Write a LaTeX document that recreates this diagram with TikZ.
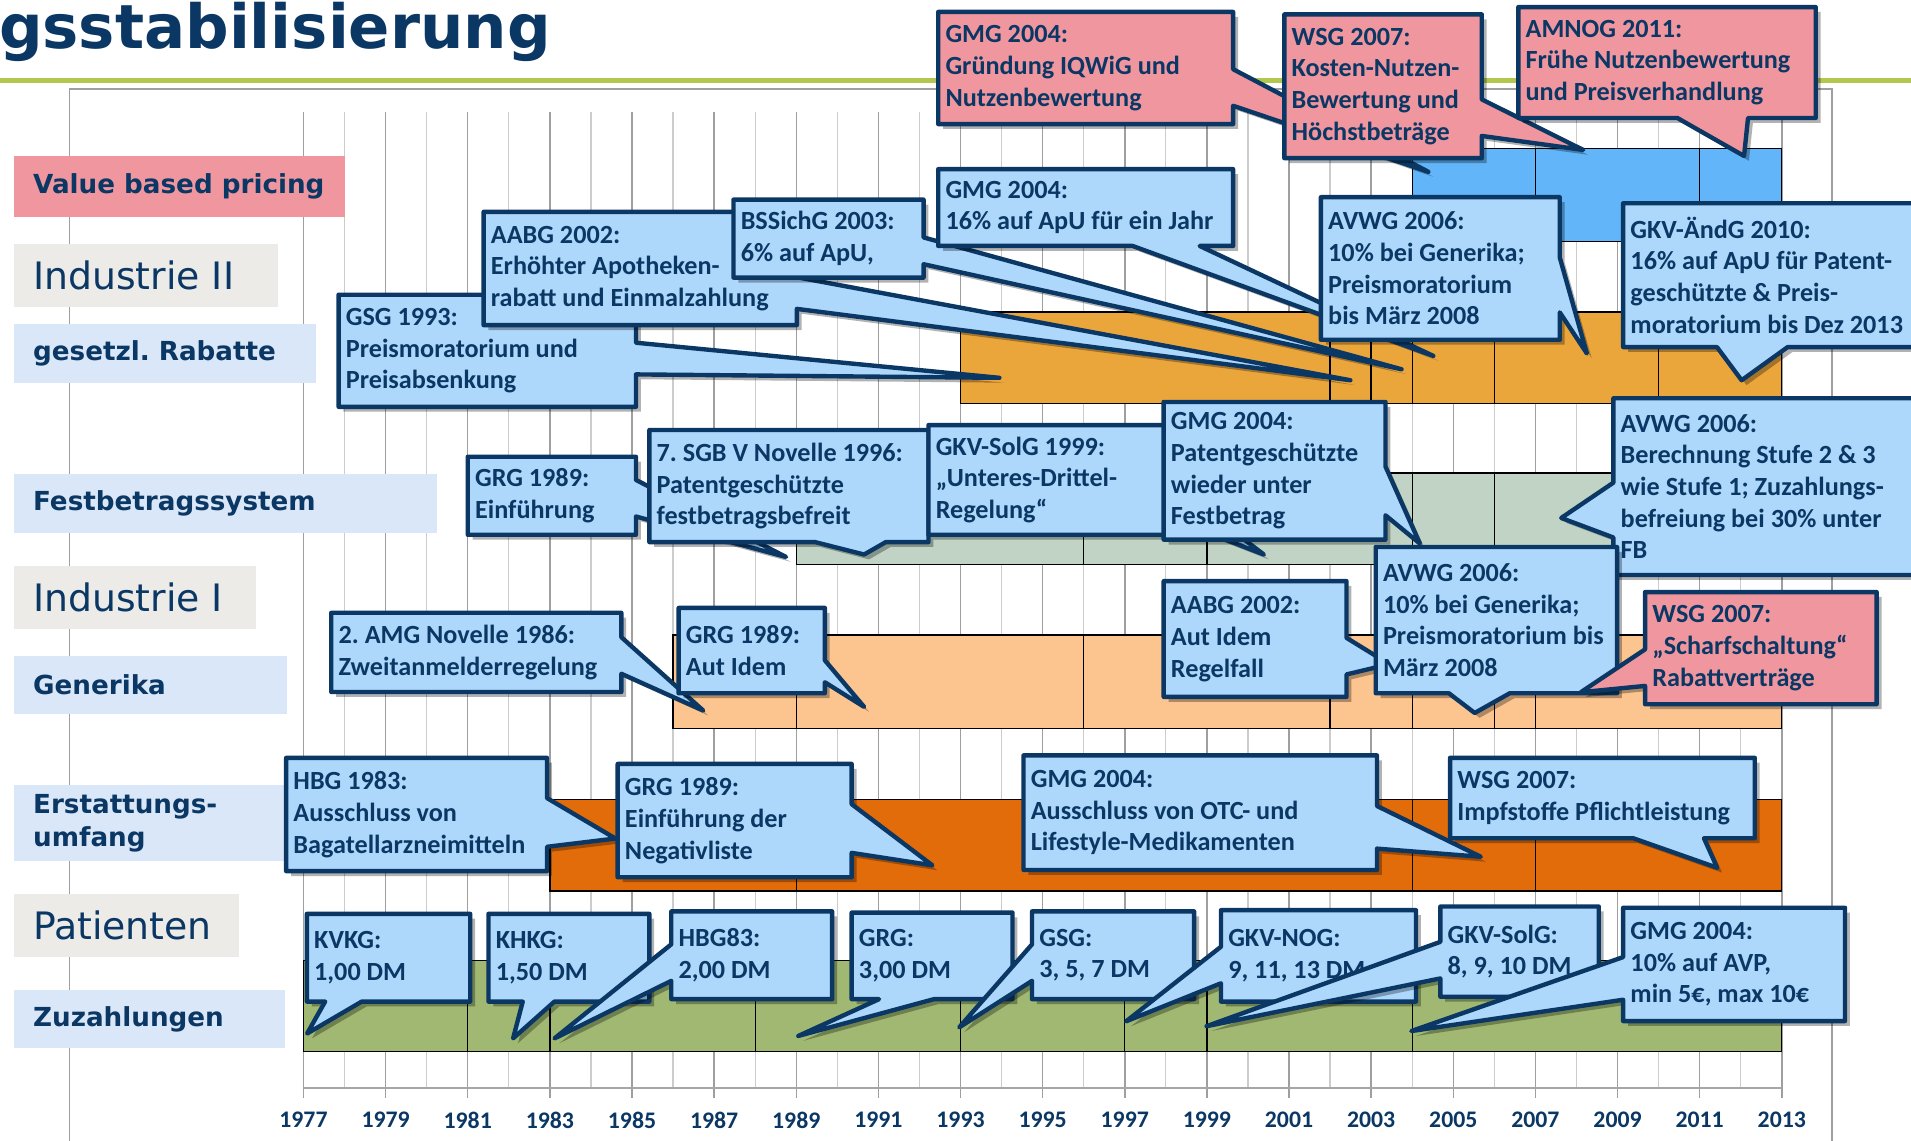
\documentclass[tikz,border=0pt]{standalone}
\usepackage{fontspec}
\setmainfont{DejaVu Sans}
\newfontfamily\notefont{Carlito}
\usetikzlibrary{shapes.callouts, shadows}

\definecolor{inkblue}{HTML}{0B3764}
\definecolor{noteblue}{HTML}{ADD8FC}
\definecolor{notepink}{HTML}{F0969F}
\definecolor{labblue}{HTML}{DAE7F8}
\definecolor{labgray}{HTML}{ECEBE8}
\definecolor{vbpbar}{HTML}{62B5F9}
\definecolor{rabattbar}{HTML}{EBA63B}
\definecolor{festbar}{HTML}{C0D3C4}
\definecolor{generikabar}{HTML}{FCC48E}
\definecolor{erstattbar}{HTML}{E26C0A}
\definecolor{zuzahlbar}{HTML}{A0B872}
\definecolor{rulegreen}{HTML}{B2C74D}

% natural word spaces inside ragged nodes
\newcommand\plainspaces{\spaceskip=0pt\xspaceskip=0pt\frenchspacing}

% year -> x position on the time axis
\pgfmathdeclarefunction{yx}{1}{\pgfmathparse{249+(#1-1977)*33.694}}

\tikzset{
  note/.style={
    rectangle callout, draw=inkblue, line width=3.6pt, line join=round,
    fill=noteblue, text=inkblue, align=left, anchor=north west,
    font=\notefont\bfseries\fontsize{21.5}{26}\selectfont,
    execute at begin node=\plainspaces,
    inner xsep=6pt, inner ysep=2pt, callout pointer width=30pt,
    drop shadow={shadow xshift=4pt, shadow yshift=-4pt, opacity=.3, fill=black}
  },
  pinknote/.style={note, fill=notepink},
  notebox/.code 2 args={%
    \pgfmathsetmacro\notew{#1-12}%
    \tikzset{minimum width=#1pt, minimum height=#2pt, text width=\notew pt}},
  rowlabel/.style={
    anchor=north west, fill=labblue, text=inkblue, align=left,
    font=\bfseries\fontsize{21.5}{27}\selectfont, inner xsep=16pt, inner ysep=0pt,
    execute at begin node=\plainspaces
  },
  grouplabel/.style={rowlabel, fill=labgray, font=\fontsize{31}{37}\selectfont},
  labelbox/.code 2 args={%
    \pgfmathsetmacro\labw{#1-32}%
    \tikzset{minimum width=#1pt, minimum height=#2pt, text width=\labw pt}},
  heading/.style={text=inkblue, font=\bfseries\fontsize{50}{60}\selectfont, inner sep=0pt},
  barbox/.style={draw=black, line width=1.1pt},
  yearline/.style={draw=gray!40, line width=1pt},
  oddyear/.style={draw=gray!75, line width=1.2pt},
  axisline/.style={draw=gray!70, line width=1.5pt},
  yearlab/.style={text=inkblue, font=\notefont\bfseries\fontsize{19.5}{22}\selectfont},
  chartframe/.style={draw=gray!75, line width=1.5pt}
}

\begin{document}
\begin{tikzpicture}[x=1pt, y=-1pt]
\useasboundingbox (0,0) rectangle (1568,936);

% Title and frame
\node[heading, anchor=base east] (title) at (452,40) {gsstabilisierung};
\draw[rulegreen, line width=3.5pt] (0,66) -- (1568,66);
\draw[chartframe] (57,936) -- (57,73) -- (1503,73) -- (1503,936);

% Year grid and axis
\foreach \yr in {1978,1980,...,2012}
  \draw[yearline] ({yx(\yr)},92) -- ({yx(\yr)},893);
\foreach \yr in {1977,1979,...,2013} {
  \draw[oddyear] ({yx(\yr)},92) -- ({yx(\yr)},901);
  \node[yearlab] (y\yr) at ({yx(\yr)},919) {\yr};
}
\draw[axisline] ({yx(1977)},893) -- ({yx(2013)},893);

% Bars
\foreach \a/\b in {2004/2007, 2007/2011, 2011/2013}
  \draw[barbox, fill=vbpbar] ({yx(\a)},122) rectangle ({yx(\b)},198);
\foreach \a/\b in {1993/2002, 2002/2003, 2003/2004, 2004/2006, 2006/2010, 2010/2013}
  \draw[barbox, fill=rabattbar] ({yx(\a)},256) rectangle ({yx(\b)},331);
\foreach \a/\b in {1989/1996, 1996/1999, 1999/2004, 2004/2006, 2006/2013}
  \draw[barbox, fill=festbar] ({yx(\a)},388) rectangle ({yx(\b)},463);
\foreach \a/\b in {1986/1989, 1989/1996, 1996/2002, 2002/2004, 2004/2006, 2006/2007, 2007/2013}
  \draw[barbox, fill=generikabar] ({yx(\a)},521) rectangle ({yx(\b)},598);
\foreach \a/\b in {1983/1989, 1989/2004, 2004/2007, 2007/2013}
  \draw[barbox, fill=erstattbar] ({yx(\a)},656) rectangle ({yx(\b)},731);
\foreach \a/\b in {1977/1981, 1981/1983, 1983/1988, 1988/1993, 1993/1997, 1997/1999, 1999/2004, 2004/2013}
  \draw[barbox, fill=zuzahlbar] ({yx(\a)},788) rectangle ({yx(\b)},863);

% Row labels
\node[rowlabel, fill=notepink, labelbox={272}{50}] (vbp) at (11,128) {Value based pricing};
\node[grouplabel, labelbox={217}{52}] (industrie2) at (11,200) {Industrie II};
\node[rowlabel, labelbox={248}{48}] (rabatte) at (11,266) {gesetzl. Rabatte};
\node[rowlabel, labelbox={347}{48}] (festbetrag) at (11,389) {Festbetragssystem};
\node[grouplabel, labelbox={199}{52}] (industrie1) at (11,464) {Industrie I};
\node[rowlabel, labelbox={224}{48}] (generika) at (11,538) {Generika};
\node[rowlabel, labelbox={250}{62}] (erstattung) at (11,644) {Erstattungs-\\umfang};
\node[grouplabel, labelbox={185}{52}] (patienten) at (11,733) {Patienten};
\node[rowlabel, labelbox={223}{48}] (zuzahlung) at (11,812) {Zuzahlungen};

% Value based pricing
\node[pinknote, notebox={242}{92}, callout absolute pointer={(1172,141)}] (gmgiqwig) at (768,8) {GMG 2004:\\Gründung IQWiG und\\Nutzenbewertung};
\node[pinknote, notebox={162}{118}, callout absolute pointer={(1299,123)}] (wsgkosten) at (1052,10) {WSG 2007:\\Kosten-Nutzen-\\Bewertung und\\Höchstbeträge};
\node[pinknote, notebox={244}{91}, callout pointer width=58pt, callout absolute pointer={(1431,128)}] (amnog) at (1244,4) {AMNOG 2011:\\Frühe Nutzenbewertung\\und Preisverhandlung};

% gesetzliche Rabatte
\node[note, notebox={244}{92}, callout pointer width=26pt, callout absolute pointer={(820,310)}] (gsgrabatt) at (276,240) {GSG 1993:\\Preismoratorium und\\Preisabsenkung};
\node[note, notebox={257}{93}, callout pointer width=26pt, callout absolute pointer={(1108,312)}] (aabgrabatt) at (395,172) {AABG 2002:\\Erhöhter Apotheken-\\rabatt und Einmalzahlung};
\node[note, notebox={156}{64}, callout pointer width=22pt, callout absolute pointer={(1150,303)}] (bssichg) at (600,162) {BSSichG 2003:\\6\% auf ApU,};
\node[note, notebox={242}{63}, callout pointer width=55pt, callout absolute pointer={(1176,292)}] (gmgapu) at (768,137) {GMG 2004:\\16\% auf ApU für ein Jahr};
\node[note, notebox={196}{117}, callout pointer width=45pt, callout absolute pointer={(1302,290)}] (avwgrabatt) at (1082,160) {AVWG 2006:\\10\% bei Generika;\\Preismoratorium\\bis März 2008};
\node[note, notebox={250}{118}, callout pointer width=58pt, callout absolute pointer={(1429,312)}] (gkvaendg) at (1330,165) {GKV-ÄndG 2010:\\16\% auf ApU für Patent-\\geschützte \& Preis-\\moratorium bis Dez 2013};

% Festbetragssystem
\node[note, notebox={138}{64}, callout absolute pointer={(645,457)}] (grgfest) at (382,373) {GRG 1989:\\Einführung};
\node[note, notebox={229}{92}, callout pointer width=58pt, callout absolute pointer={(709,455)}] (sgbfest) at (531,351) {7. SGB V Novelle 1996:\\Patentgeschützte\\festbetragsbefreit};
\node[note, notebox={195}{90}, callout absolute pointer={(1037,455)}] (gkvsolgfest) at (760,347) {GKV-SolG 1999:\\„Unteres-Drittel-\\Regelung“};
\node[note, notebox={182}{113}, callout pointer width=40pt, callout absolute pointer={(1165,446)}] (gmgfest) at (953,328) {GMG 2004:\\Patentgeschützte\\wieder unter\\Festbetrag};
\node[note, notebox={256}{145}, callout pointer width=45pt, callout absolute pointer={(1281,425)}] (avwgfest) at (1322,325) {AVWG 2006:\\Berechnung Stufe 2 \& 3\\wie Stufe 1; Zuzahlungs-\\befreiung bei 30\% unter\\FB};

% Generika
\node[note, notebox={238}{65}, callout absolute pointer={(577,583)}] (amggen) at (270,501) {2. AMG Novelle 1986:\\Zweitanmelderregelung};
\node[note, notebox={120}{70}, callout pointer width=18pt, callout absolute pointer={(709,580)}] (grggen) at (555,497) {GRG 1989:\\Aut Idem};
\node[note, notebox={150}{95}, callout absolute pointer={(1140,545)}] (aabggen) at (953,475) {AABG 2002:\\Aut Idem\\Regelfall};
\node[note, notebox={198}{120}, callout pointer width=50pt, callout absolute pointer={(1210,585)}] (avwggen) at (1127,447) {AVWG 2006:\\10\% bei Generika;\\Preismoratorium bis\\März 2008};
\node[pinknote, notebox={190}{92}, callout absolute pointer={(1297,568)}] (wsggen) at (1348,484) {WSG 2007:\\„Scharfschaltung“\\Rabattverträge};

% Erstattungsumfang
\node[note, notebox={214}{93}, callout pointer width=40pt, callout absolute pointer={(505,688)}] (hbgerst) at (233,620) {HBG 1983:\\Ausschluss von\\Bagatellarzneimitteln};
\node[note, notebox={192}{93}, callout pointer width=40pt, callout absolute pointer={(765,710)}] (grgerst) at (505,625) {GRG 1989:\\Einführung der\\Negativliste};
\node[note, notebox={290}{94}, callout pointer width=35pt, callout absolute pointer={(1215,703)}] (gmgerst) at (838,618) {GMG 2004:\\Ausschluss von OTC- und\\Lifestyle-Medikamenten};
\node[note, notebox={250}{66}, callout pointer width=58pt, callout absolute pointer={(1409,712)}] (wsgerst) at (1188,620) {WSG 2007:\\Impfstoffe Pflichtleistung};

% Zuzahlungen
\node[note, notebox={134}{72}, callout absolute pointer={(252,848)}] (kvkg) at (250,748) {KVKG:\\1,00 DM};
\node[note, notebox={132}{72}, callout pointer width=26pt, callout absolute pointer={(421,852)}] (khkg) at (399,748) {KHKG:\\1,50 DM};
\node[note, notebox={132}{72}, callout absolute pointer={(455,852)}] (hbgzuz) at (549,746) {HBG83:\\2,00 DM};
\node[note, notebox={132}{71}, callout pointer width=45pt, callout absolute pointer={(655,850)}] (grgzuz) at (697,747) {GRG:\\3,00 DM};
\node[note, notebox={133}{72}, callout absolute pointer={(787,843)}] (gsgzuz) at (845,746) {GSG:\\3, 5, 7 DM};
\node[note, notebox={160}{75}, callout absolute pointer={(924,838)}] (gkvnog) at (1000,745) {GKV-NOG:\\9, 11, 13 DM};
\node[note, notebox={130}{74}, callout absolute pointer={(990,842)}] (gkvsolgzuz) at (1180,742) {GKV-SolG:\\8, 9, 10 DM};
\node[note, notebox={182}{93}, callout pointer width=35pt, callout absolute pointer={(1158,846)}] (gmgzuz) at (1330,743) {GMG 2004:\\10\% auf AVP,\\min 5€, max 10€};

\end{tikzpicture}
\end{document}
